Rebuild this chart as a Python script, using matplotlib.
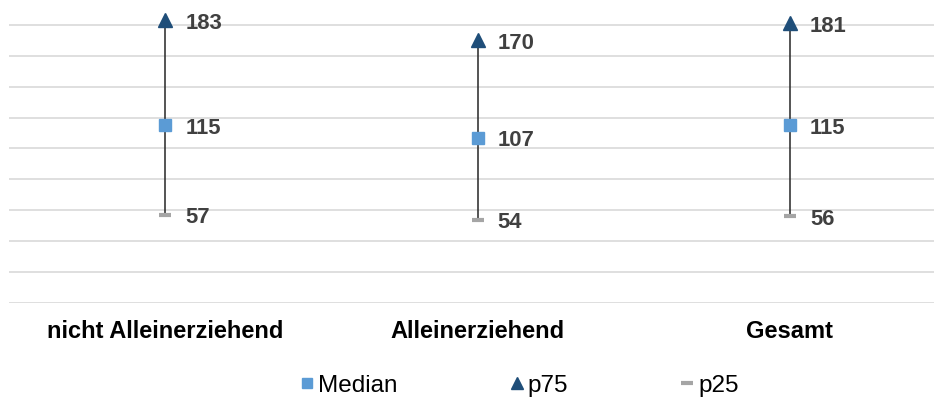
import matplotlib
matplotlib.use("Agg")
import matplotlib.pyplot as plt
from matplotlib.lines import Line2D

categories = ["nicht Alleinerziehend", "Alleinerziehend", "Gesamt"]
median = [115, 107, 115]
p75 = [183, 170, 181]
p25 = [57, 54, 56]

plt.rcParams['font.family'] = ['Liberation Sans', 'DejaVu Sans']

fig = plt.figure(figsize=(9.34, 3.99), dpi=100)
ax = fig.add_axes([9/934, 96/399, 937/934, 309/399])

x = list(range(len(categories)))
ax.set_xlim(-0.5, len(categories) - 0.5)
ax.set_ylim(0, 200)
ax.set_yticks(range(0, 201, 20))
ax.yaxis.grid(True, color='#D9D9D9', linewidth=1.2)
ax.set_axisbelow(True)
for s in ax.spines.values():
    s.set_visible(False)
ax.tick_params(axis='y', left=False, labelleft=False)
ax.tick_params(axis='x', bottom=False, pad=9)
ax.set_xticks(x)
ax.set_xticklabels(categories, fontsize=17, fontweight='bold', color='#000000')

ax.vlines(x, p25, p75, color='#262626', linewidth=1.1, zorder=2)
ax.plot(x, p25, linestyle='none', marker='_', markersize=9, markeredgewidth=3,
        color='#A5A5A5', zorder=3)
ax.plot(x, median, linestyle='none', marker='s', markersize=8.5,
        color='#5B9BD5', zorder=3)
ax.plot(x, p75, linestyle='none', marker='^', markersize=9.5,
        color='#1F4E79', zorder=3)

for series in (p75, median, p25):
    for xi, v in zip(x, series):
        ax.annotate(str(v), (xi, v), xytext=(20, -3), textcoords='offset pixels',
                    ha='left', va='center', fontsize=15.8, fontweight='bold',
                    color='#404040')

handles = [
    Line2D([], [], linestyle='none', marker='s', markersize=7.5, color='#5B9BD5', label='Median'),
    Line2D([], [], linestyle='none', marker='^', markersize=8, color='#1F4E79', label='p75'),
    Line2D([], [], linestyle='none', marker='_', markersize=8, markeredgewidth=3,
           color='#A5A5A5', label='p25'),
]
fig.legend(handles=handles, loc='center', bbox_to_anchor=(520/934, 1 - 386/399),
           ncol=3, frameon=False, fontsize=17.5, handlelength=0.5, handletextpad=0.2,
           columnspacing=4.65, borderpad=0)

fig.savefig('out.png', dpi=100)
